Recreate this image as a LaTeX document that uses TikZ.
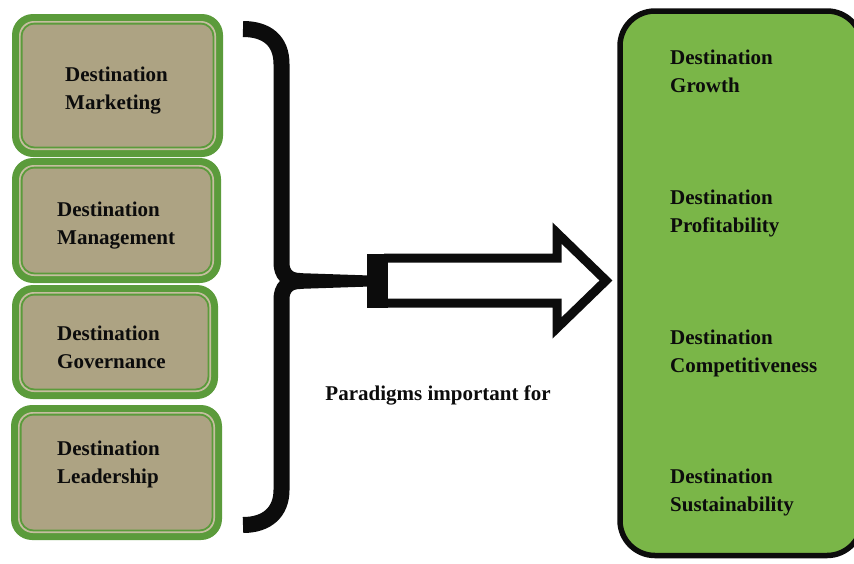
\documentclass[tikz,border=0pt]{standalone}
\usepackage{fontspec}
\setmainfont{Liberation Serif}
\usetikzlibrary{calc}

\definecolor{boxgreen}{HTML}{5B9B3B}
\definecolor{boxtan}{HTML}{ADA383}
\definecolor{boxpale}{HTML}{C6BEA0}
\definecolor{goalgreen}{HTML}{7AB648}
\definecolor{inkblack}{HTML}{0C0C0C}

% one paradigm box: green frame, pale and green rings, tan face
\newcommand{\paradigmbox}[5]{%
  \fill[boxgreen, rounded corners=21pt] (#2,#3) rectangle (#4,#5);
  \fill[boxpale, rounded corners=15pt] (#2+7,#3+7) rectangle (#4-7,#5-7);
  \fill[boxgreen, rounded corners=13.5pt] (#2+8.7,#3+8.7) rectangle (#4-8.7,#5-8.7);
  \fill[boxtan, rounded corners=12pt] (#2+10.5,#3+10.5) rectangle (#4-10.5,#5-10.5);
  \coordinate (#1) at ($(#2,#3)!0.5!(#4,#5)$);
}

\begin{document}
\begin{tikzpicture}[x=1pt, y=-1pt,
  txt/.style={font=\fontsize{21}{28}\selectfont\bfseries, align=left,
              inner sep=0pt, anchor=west, text=inkblack},
  bracestroke/.style={draw=inkblack, line width=16pt, line cap=butt},
  arrowline/.style={draw=inkblack, line width=9pt, line join=miter, fill=white}]
\useasboundingbox (0,0) rectangle (854,563);

% the four paradigms
\paradigmbox{marketing}{12}{14}{223}{157}
\paradigmbox{management}{12}{158}{221}{283}
\paradigmbox{governance}{12}{285}{218}{399}
\paradigmbox{leadership}{11}{405}{222}{540}

\node[txt] (tm) at (65,90.5) {Destination\\Marketing};
\node[txt] (tg) at (57,226) {Destination\\Management};
\node[txt] (tv) at (57,347) {Destination\\Governance};
\node[txt] (tl) at (57,464) {Destination\\Leadership};

% outcomes panel
\node[draw=inkblack, line width=5.5pt, fill=goalgreen, rounded corners=35pt,
      minimum width=242pt, minimum height=544.5pt, inner sep=0pt, outer sep=0pt,
      anchor=north west] (goals) at (620,11) {};

\node[txt] (og) at (670,71)  {Destination\\Growth};
\node[txt] (op) at (670,213) {Destination\\Profitability};
\node[txt] (oc) at (670,353) {Destination\\Competitiveness};
\node[txt] (os) at (670,492) {Destination\\Sustainability};

% curly brace gathering the paradigms
\coordinate (tip) at (300,281);
\draw[bracestroke] (243,29) .. controls (267,29) and (281.5,41) .. (281.5,64)
  -- (281.5,263) .. controls (281.5,274) and (288,281) .. (tip);
\draw[bracestroke] (243,525) .. controls (267,525) and (281.5,512) .. (281.5,490)
  -- (281.5,299) .. controls (281.5,288) and (288,281) .. (tip);
\fill[inkblack] (296,273) -- (370,275.5) -- (370,286.5) -- (296,289) -- cycle;

% block arrow towards the outcomes
\coordinate (tail) at (384,280.5);
\coordinate (head) at (606,280.5);
\draw[arrowline] (tail |- 0,258) -- (557,258) -- (557,233) -- (head)
  -- (557,328) -- (557,303) -- (tail |- 0,303);
\fill[inkblack] (367,253.5) rectangle (388,307.5);

\node[txt, anchor=center] (cap) at (438,395) {Paradigms important for};
\end{tikzpicture}
\end{document}
